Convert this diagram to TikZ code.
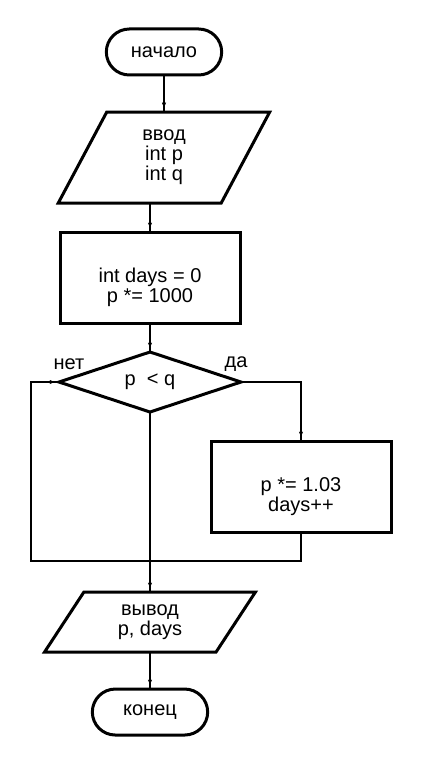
\documentclass[tikz,border=0pt]{standalone}
\usepackage{fontspec}
\setmainfont{Liberation Sans}
\usepackage{tikz}
\usetikzlibrary{positioning, calc, shapes.geometric, shapes.misc, arrows.meta, decorations.markings}
\tikzstyle{Arrow} = [
    line width = 1.9pt,
    decoration={
        markings,
		mark=at position 1 with {
            \arrow{Latex[length=10pt, width=6.5pt]}
		}
	},
	preaction = {decorate}
]

\begin{document}
\begin{tikzpicture}[
font = \fontsize{20}{20}\selectfont,
every node/.style = {outer sep = 0pt, align = center},
term/.style = {
    rounded rectangle,
    draw, line width = 3pt,
    minimum width = 122pt,
    minimum height = 46pt
    },
io/.style = {
    trapezium,
    trapezium stretches = true,
    draw, line width = 3pt
    },
proc/.style = {
    rectangle,
    draw, line width = 3pt,
    text height = 54pt,
    text depth = 4pt,
    minimum width = 180pt,
    minimum height = 91pt
    },
decision/.style = {
    diamond,
    aspect = 3,
    inner sep = 0pt,
    draw, line width = 3pt,
    minimum width = 182pt,
    minimum height = 60pt
    }
]
\useasboundingbox (0,0) rectangle (420pt,-765pt);

\node [term] (1) at (164pt,-52pt) {начало};
\node [io, below = 37pt of 1,
    trapezium left angle = 71, trapezium right angle = 109,
    minimum width = 212pt, minimum height = 91pt] (2) {
    ввод\\int p\\int q
};
\node [proc, below = 29pt of 2, xshift = -14pt] (3) {
    int days = 0\\p *= 1000
};
\node [decision, below = 29pt of 3] (4) {p \ < q};
\node [proc, below = 59pt of 4.east, xshift = 60pt] (5) {
    p *= 1.03\\days++
};
\node [io, below = 180pt of 4,
    trapezium left angle = 63, trapezium right angle = 117,
    minimum width = 211pt, minimum height = 60pt] (6) {
    вывод\\p, days
};
\node [term, below = 37pt of 6] (7) {конец};

\node (8) at ($(4.east)+(-5pt,18pt)$) {да};
\node (9) at ($(4.west)+(10pt,18pt)$) {нет};

\draw[Arrow] (1) -- (2);
\draw[Arrow] (2.south -| 3.north) -- (3.north);
\draw[Arrow] (3) -- (4);
\draw[Arrow] (4.east) -| (5.north);
\draw[Arrow] (5.south) -- ++(0,-29pt) -| ($(4.west)+(-28pt,0)$) -- (4.west);
\draw[Arrow] (4.south) -- (6.north);
\draw[Arrow] (6) -- (7);

\end{tikzpicture}
\end{document}
